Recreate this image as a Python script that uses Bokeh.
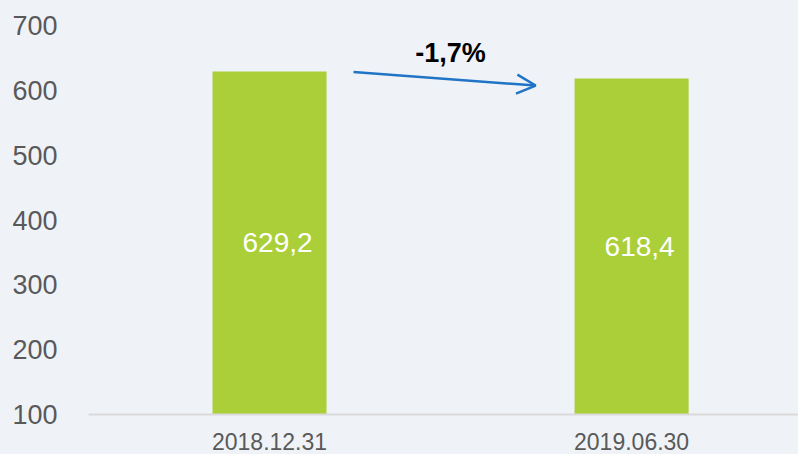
from bokeh.plotting import figure
from bokeh.models import (Range1d, FixedTicker, Arrow, OpenHead, Label,
                          ColumnDataSource, GlobalInlineStyleSheet)
from bokeh.embed import file_html
from bokeh.resources import INLINE
from bokeh.core.properties import value

# ---- data ----
categories = ["2018.12.31", "2019.06.30"]
values = [629.2, 618.4]
value_labels = ["629,2", "618,4"]
y_ticks = [100, 200, 300, 400, 500, 600, 700]

BG = "#eff3f8"
GREEN = "#aacf39"
BLUE = "#1f74c6"
FONT = "Liberation Sans"

xs = list(range(len(categories)))
src = ColumnDataSource(dict(x=xs, top=values, lab=value_labels,
                            mid=[(v + y_ticks[0]) / 2 for v in values]))

p = figure(width=798, height=454, output_backend="svg", toolbar_location=None,
           x_range=Range1d(-0.5, 1.461), y_range=Range1d(100, 700),
           background_fill_color=BG, border_fill_color=BG,
           min_border_left=88, min_border_right=0, min_border_top=25,
           min_border_bottom=40, outline_line_color=None)
p.stylesheets.append(GlobalInlineStyleSheet(
    css=f"html, body {{ margin: 0; padding: 0; background: {BG}; overflow: hidden; }}"))

p.xgrid.grid_line_color = None
p.ygrid.grid_line_color = None

p.vbar(x="x", top="top", bottom=0, width=0.315, source=src,
       fill_color=GREEN, line_color=None)

p.text(x="x", y="mid", text="lab", source=src, x_offset=8,
       text_align="center", text_baseline="middle",
       text_color="white", text_font=value(FONT), text_font_size="28px")

# y axis
p.yaxis.ticker = FixedTicker(ticks=y_ticks)
p.yaxis.axis_line_color = None
p.yaxis.major_tick_line_color = None
p.yaxis.minor_tick_line_color = None
p.yaxis.major_label_text_font = FONT
p.yaxis.major_label_text_font_size = "27px"
p.yaxis.major_label_text_color = "#595959"
p.yaxis.major_label_standoff = 25

# x axis
p.xaxis.ticker = FixedTicker(ticks=xs)
p.xaxis.major_label_overrides = {i: c for i, c in zip(xs, categories)}
p.xaxis.axis_line_color = "#d9d9d9"
p.xaxis.axis_line_width = 2
p.xaxis.major_tick_line_color = None
p.xaxis.minor_tick_line_color = None
p.xaxis.major_label_text_font = FONT
p.xaxis.major_label_text_font_size = "23px"
p.xaxis.major_label_text_color = "#595959"
p.xaxis.major_label_standoff = 12

# change arrow + percentage
change = (values[1] / values[0] - 1) * 100
pct_text = f"{change:.1f}%".replace(".", ",")
p.add_layout(Arrow(end=OpenHead(size=19, line_color=BLUE, line_width=2.5),
                   x_start=xs[0] + 0.232, y_start=values[0] - 1,
                   x_end=xs[1] - 0.265, y_end=values[1] - 11,
                   line_color=BLUE, line_width=2.5))
p.add_layout(Label(x=(xs[0] + xs[1]) / 2, y=values[0] + 28, text=pct_text,
                   text_align="center", text_baseline="middle",
                   text_font=FONT, text_font_size="27px", text_font_style="bold",
                   text_color="black"))

open("out.html", "w").write(file_html(p, INLINE))
